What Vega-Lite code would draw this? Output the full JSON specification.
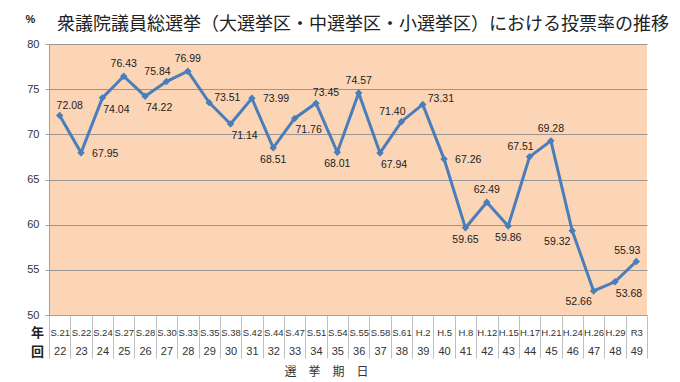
{
  "$schema": "https://vega.github.io/schema/vega-lite/v6.json",
  "width": 598,
  "height": 271,
  "autosize": {"type": "none"},
  "padding": {"left": 49, "top": 44, "right": 33, "bottom": 67},
  "background": "white",
  "config": {
    "view": {"fill": "#FBD5B5", "stroke": null},
    "font": "Liberation Sans"
  },
  "title": {
    "text": "衆議院議員総選挙（大選挙区・中選挙区・小選挙区）における投票率の推移",
    "font": "Noto Sans CJK JP",
    "fontSize": 18,
    "fontWeight": "normal",
    "color": "#222222",
    "anchor": "start",
    "frame": "group",
    "dx": 8,
    "offset": -21
  },
  "data": {
    "values": [
      {"kai": 22, "year": "S.21", "rate": 72.08},
      {"kai": 23, "year": "S.22", "rate": 67.95},
      {"kai": 24, "year": "S.24", "rate": 74.04},
      {"kai": 25, "year": "S.27", "rate": 76.43},
      {"kai": 26, "year": "S.28", "rate": 74.22},
      {"kai": 27, "year": "S.30", "rate": 75.84},
      {"kai": 28, "year": "S.33", "rate": 76.99},
      {"kai": 29, "year": "S.35", "rate": 73.51},
      {"kai": 30, "year": "S.38", "rate": 71.14},
      {"kai": 31, "year": "S.42", "rate": 73.99},
      {"kai": 32, "year": "S.44", "rate": 68.51},
      {"kai": 33, "year": "S.47", "rate": 71.76},
      {"kai": 34, "year": "S.51", "rate": 73.45},
      {"kai": 35, "year": "S.54", "rate": 68.01},
      {"kai": 36, "year": "S.55", "rate": 74.57},
      {"kai": 37, "year": "S.58", "rate": 67.94},
      {"kai": 38, "year": "S.61", "rate": 71.40},
      {"kai": 39, "year": "H.2", "rate": 73.31},
      {"kai": 40, "year": "H.5", "rate": 67.26},
      {"kai": 41, "year": "H.8", "rate": 59.65},
      {"kai": 42, "year": "H.12", "rate": 62.49},
      {"kai": 43, "year": "H.15", "rate": 59.86},
      {"kai": 44, "year": "H.17", "rate": 67.51},
      {"kai": 45, "year": "H.21", "rate": 69.28},
      {"kai": 46, "year": "H.24", "rate": 59.32},
      {"kai": 47, "year": "H.26", "rate": 52.66},
      {"kai": 48, "year": "H.29", "rate": 53.68},
      {"kai": 49, "year": "R3", "rate": 55.93}
    ]
  },
  "layer": [
    {
      "encoding": {
        "x": {
          "field": "kai",
          "type": "ordinal",
          "scale": {"type": "point", "padding": 0.5},
          "axis": {
            "orient": "bottom",
            "domain": false,
            "ticks": false,
            "grid": false,
            "labelAngle": 0,
            "labelOverlap": false,
            "labelFont": "Liberation Sans",
            "labelFontSize": 11,
            "labelColor": "#333333",
            "labelBaseline": "middle",
            "labelPadding": 36,
            "title": "回",
            "titleFont": "Noto Sans CJK JP",
            "titleFontSize": 13,
            "titleFontWeight": "bold",
            "titleColor": "#222222",
            "titleAngle": 0,
            "titleAlign": "center",
            "titleBaseline": "middle",
            "titleX": -12,
            "titleY": 36
          }
        },
        "y": {
          "field": "rate",
          "type": "quantitative",
          "scale": {"domain": [50, 80], "zero": false, "nice": false},
          "axis": {
            "values": [50, 55, 60, 65, 70, 75, 80],
            "grid": true,
            "gridColor": "#9a9590",
            "gridWidth": 1,
            "domain": true,
            "domainColor": "#a0a0a0",
            "ticks": true,
            "tickSize": 4,
            "tickColor": "#a0a0a0",
            "labelFont": "Liberation Sans",
            "labelFontSize": 11,
            "labelColor": "#333333",
            "labelPadding": 6,
            "title": "%",
            "titleFont": "Liberation Sans",
            "titleFontSize": 11,
            "titleFontWeight": "bold",
            "titleColor": "#222222",
            "titleAngle": 0,
            "titleAlign": "center",
            "titleBaseline": "middle",
            "titleX": -19,
            "titleY": -25
          }
        }
      },
      "layer": [
        {"mark": {"type": "line", "color": "#4A7EBB", "strokeWidth": 3}},
        {"mark": {"type": "point", "shape": "diamond", "filled": true, "opacity": 1, "size": 55, "color": "#4A7EBB"}},
        {
          "transform": [{"filter": {"field": "kai", "oneOf": [25, 28, 36, 42, 45]}}],
          "mark": {"type": "text", "dy": -12, "align": "center", "baseline": "middle", "fontSize": 10.5, "color": "#222222"},
          "encoding": {"text": {"field": "rate", "type": "quantitative", "format": ".2f"}}
        },
        {
          "transform": [{"filter": {"field": "kai", "oneOf": [22, 34]}}],
          "mark": {"type": "text", "dx": 10, "dy": -10, "align": "center", "baseline": "middle", "fontSize": 10.5, "color": "#222222"},
          "encoding": {"text": {"field": "rate", "type": "quantitative", "format": ".2f"}}
        },
        {
          "transform": [{"filter": {"field": "kai", "oneOf": [27, 38, 44, 49]}}],
          "mark": {"type": "text", "dx": -9, "dy": -10, "align": "center", "baseline": "middle", "fontSize": 10.5, "color": "#222222"},
          "encoding": {"text": {"field": "rate", "type": "quantitative", "format": ".2f"}}
        },
        {
          "transform": [{"filter": {"field": "kai", "oneOf": [23, 31, 40]}}],
          "mark": {"type": "text", "dx": 11, "dy": 1, "align": "left", "baseline": "middle", "fontSize": 10.5, "color": "#222222"},
          "encoding": {"text": {"field": "rate", "type": "quantitative", "format": ".2f"}}
        },
        {
          "transform": [{"filter": {"field": "kai", "oneOf": [29, 39]}}],
          "mark": {"type": "text", "dx": 5, "dy": -5, "align": "left", "baseline": "middle", "fontSize": 10.5, "color": "#222222"},
          "encoding": {"text": {"field": "rate", "type": "quantitative", "format": ".2f"}}
        },
        {
          "transform": [{"filter": {"field": "kai", "oneOf": [32, 35, 41, 43]}}],
          "mark": {"type": "text", "dy": 12, "align": "center", "baseline": "middle", "fontSize": 10.5, "color": "#222222"},
          "encoding": {"text": {"field": "rate", "type": "quantitative", "format": ".2f"}}
        },
        {
          "transform": [{"filter": {"field": "kai", "oneOf": [24, 26, 30, 33, 37, 48]}}],
          "mark": {"type": "text", "dx": 14, "dy": 12, "align": "center", "baseline": "middle", "fontSize": 10.5, "color": "#222222"},
          "encoding": {"text": {"field": "rate", "type": "quantitative", "format": ".2f"}}
        },
        {
          "transform": [{"filter": {"field": "kai", "oneOf": [46, 47]}}],
          "mark": {"type": "text", "dx": -15, "dy": 11, "align": "center", "baseline": "middle", "fontSize": 10.5, "color": "#222222"},
          "encoding": {"text": {"field": "rate", "type": "quantitative", "format": ".2f"}}
        }
      ]
    },
    {
      "mark": {"type": "point", "opacity": 0},
      "encoding": {
        "x": {
          "field": "year",
          "type": "ordinal",
          "sort": {"field": "kai", "op": "min"},
          "scale": {"type": "point", "padding": 0.5},
          "axis": {
            "orient": "bottom",
            "domain": true,
            "domainColor": "#a0a0a0",
            "ticks": false,
            "grid": false,
            "labelAngle": 0,
            "labelOverlap": false,
            "labelFont": "Liberation Sans",
            "labelFontSize": 9.5,
            "labelColor": "#333333",
            "labelBaseline": "middle",
            "labelPadding": 17,
            "title": "年",
            "titleFont": "Noto Sans CJK JP",
            "titleFontSize": 13,
            "titleFontWeight": "bold",
            "titleColor": "#222222",
            "titleAngle": 0,
            "titleAlign": "center",
            "titleBaseline": "middle",
            "titleX": -12,
            "titleY": 17
          }
        }
      }
    },
    {
      "mark": {"type": "point", "opacity": 0},
      "encoding": {
        "x": {
          "field": "year",
          "type": "ordinal",
          "sort": {"field": "kai", "op": "min"},
          "scale": {"type": "band", "paddingInner": 0, "paddingOuter": 0},
          "axis": {
            "orient": "bottom",
            "domain": false,
            "ticks": true,
            "tickBand": "extent",
            "tickSize": 43,
            "tickColor": "#c0c0c0",
            "grid": false,
            "labels": false,
            "title": "選　挙　期　日",
            "titleFont": "Noto Sans CJK JP",
            "titleFontSize": 12,
            "titleFontWeight": "normal",
            "titleColor": "#333333",
            "titlePadding": 8,
            "titleX": 277,
            "titleAlign": "center"
          }
        }
      }
    }
  ],
  "resolve": {"scale": {"x": "independent"}, "axis": {"x": "independent"}}
}
